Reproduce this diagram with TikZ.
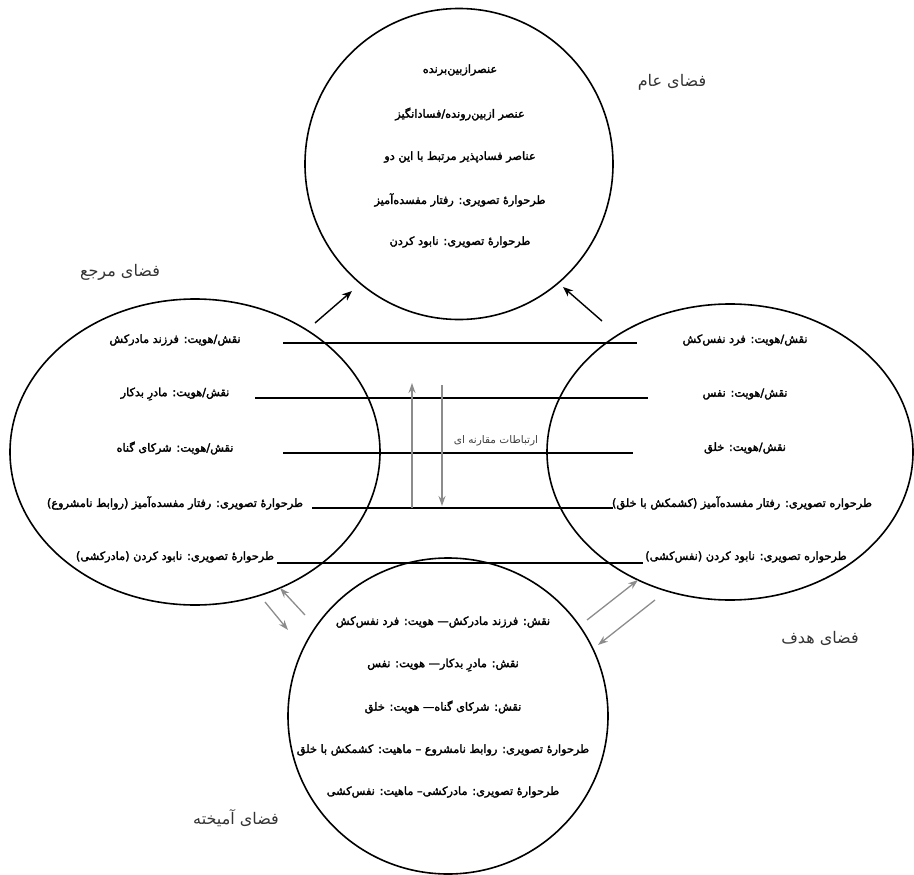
\documentclass[tikz,border=0pt]{standalone}
\usepackage{fontspec}
\usetikzlibrary{shapes.geometric,arrows.meta}
\setmainfont{DejaVu Sans}
\newfontfamily\fafont[Script=Arabic]{DejaVu Sans}
\newfontfamily\faheavy[Script=Arabic,FakeBold=2.4]{DejaVu Sans}
\TeXXeTstate=1
\newcommand{\fatxt}[1]{\beginR #1\endR}

\tikzset{
  space/.style={draw, ellipse, line width=1.6pt, inner sep=0pt},
  item/.style={font=\faheavy\fontsize{11.3}{13}\selectfont},
  spacename/.style={font=\fafont\fontsize{16}{19}\selectfont, text=black!80},
  link/.style={line width=1.7pt},
  mapto/.style={line width=1.4pt, -{Stealth[length=10pt,width=8pt]}},
  blend/.style={line width=1.3pt, gray!90, -{Stealth[length=10pt,width=7pt]}}
}

\begin{document}
\begin{tikzpicture}[x=1pt,y=-1pt]
	\useasboundingbox (0,0) rectangle (914,875);

	% the four spaces
	\node[space, minimum width=308pt, minimum height=311pt] (generic) at (459,164) {};
	\node[space, minimum width=370pt, minimum height=306pt] (source) at (195,452) {};
	\node[space, minimum width=366pt, minimum height=296pt] (target) at (730,452) {};
	\node[space, minimum width=320pt, minimum height=316pt] (blended) at (448,716) {};

	\node[spacename] (genericname) at (672,82) {\fatxt{فضای عام}};
	\node[spacename] (sourcename) at (120,272) {\fatxt{فضای مرجع}};
	\node[spacename] (targetname) at (820,638) {\fatxt{فضای هدف}};
	\node[spacename] (blendedname) at (236,818) {\fatxt{فضای آمیخته}};

	% generic space
	\node[item] (g1) at (460,70){\fatxt{عنصرازبین‌برنده}};
	\node[item] (g2) at (460,114){\fatxt{عنصر ازبین‌رونده/فسادانگیز}};
	\node[item] (g3) at (460,157){\fatxt{عناصر فسادپذیر مرتبط با این دو}};
	\node[item] (g4) at (460,200){\fatxt{طرحوارهٔ تصویری: رفتار مفسده‌آمیز}};
	\node[item] (g5) at (460,242){\fatxt{طرحوارهٔ تصویری: نابود کردن}};

	% source space
	\node[item] (s1) at (175,340){\fatxt{نقش/هویت: فرزند مادرکش}};
	\node[item] (s2) at (175,394){\fatxt{نقش/هویت: مادرِ بدکار}};
	\node[item] (s3) at (175,448){\fatxt{نقش/هویت: شرکای گناه}};
	\node[item] (s4) at (175,503){\fatxt{طرحوارهٔ تصویری: رفتار مفسده‌آمیز (روابط نامشروع)}};
	\node[item] (s5) at (175,557){\fatxt{طرحوارهٔ تصویری: نابود کردن (مادرکشی)}};

	% target space
	\node[item] (t1) at (745,340){\fatxt{نقش/هویت: فرد نفس‌کش}};
	\node[item] (t2) at (745,394){\fatxt{نقش/هویت: نفس}};
	\node[item] (t3) at (745,448){\fatxt{نقش/هویت: خلق}};
	\node[item] (t4) at (742,503){\fatxt{طرحواره تصویری: رفتار مفسده‌آمیز (کشمکش با خلق)}};
	\node[item] (t5) at (746,557){\fatxt{طرحواره تصویری: نابود کردن (نفس‌کشی)}};

	% blended space
	\node[item] (b1) at (443,622){\fatxt{نقش: فرزند مادرکش— هویت: فرد نفس‌کش}};
	\node[item] (b2) at (443,665){\fatxt{نقش: مادرِ بدکار— هویت: نفس}};
	\node[item] (b3) at (443,707){\fatxt{نقش: شرکای گناه— هویت: خلق}};
	\node[item] (b4) at (443,750){\fatxt{طرحوارهٔ تصویری: روابط نامشروع – ماهیت: کشمکش با خلق}};
	\node[item] (b5) at (443,792){\fatxt{طرحوارهٔ تصویری: مادرکشی– ماهیت: نفس‌کشی}};

	% cross-space mappings
	\foreach \i/\y/\a/\b in {1/343/283/637, 2/398/255/648, 3/453/283/633, 4/508/312/613, 5/563/277/643}{
		\coordinate (ml\i) at (\a,\y);
		\coordinate (mr\i) at (\b,\y);
		\draw[link] (ml\i) -- (mr\i);
	}
	\node[font=\fafont\fontsize{10.5}{12}\selectfont, text=black!75] (comparison) at (496,441) {\fatxt{ارتباطات مقارنه ای}};

	\coordinate (up0) at (412,508); \coordinate (up1) at (412,383);
	\coordinate (dn0) at (442,385); \coordinate (dn1) at (442,506);
	\draw[blend] (up0) -- (up1);
	\draw[blend] (dn0) -- (dn1);

	% to the generic space
	\coordinate (sg0) at (315,323); \coordinate (sg1) at (352,291);
	\coordinate (tg0) at (602,321); \coordinate (tg1) at (563,287);
	\draw[mapto] (sg0) -- (sg1);
	\draw[mapto] (tg0) -- (tg1);

	% to and from the blend
	\coordinate (sb0) at (305,615); \coordinate (sb1) at (280,588);
	\coordinate (bs0) at (265,602); \coordinate (bs1) at (288,630);
	\coordinate (tb0) at (587,620); \coordinate (tb1) at (638,580);
	\coordinate (bt0) at (655,600); \coordinate (bt1) at (598,645);
	\draw[blend] (sb0) -- (sb1);
	\draw[blend] (bs0) -- (bs1);
	\draw[blend] (tb0) -- (tb1);
	\draw[blend] (bt0) -- (bt1);
\end{tikzpicture}
\end{document}
